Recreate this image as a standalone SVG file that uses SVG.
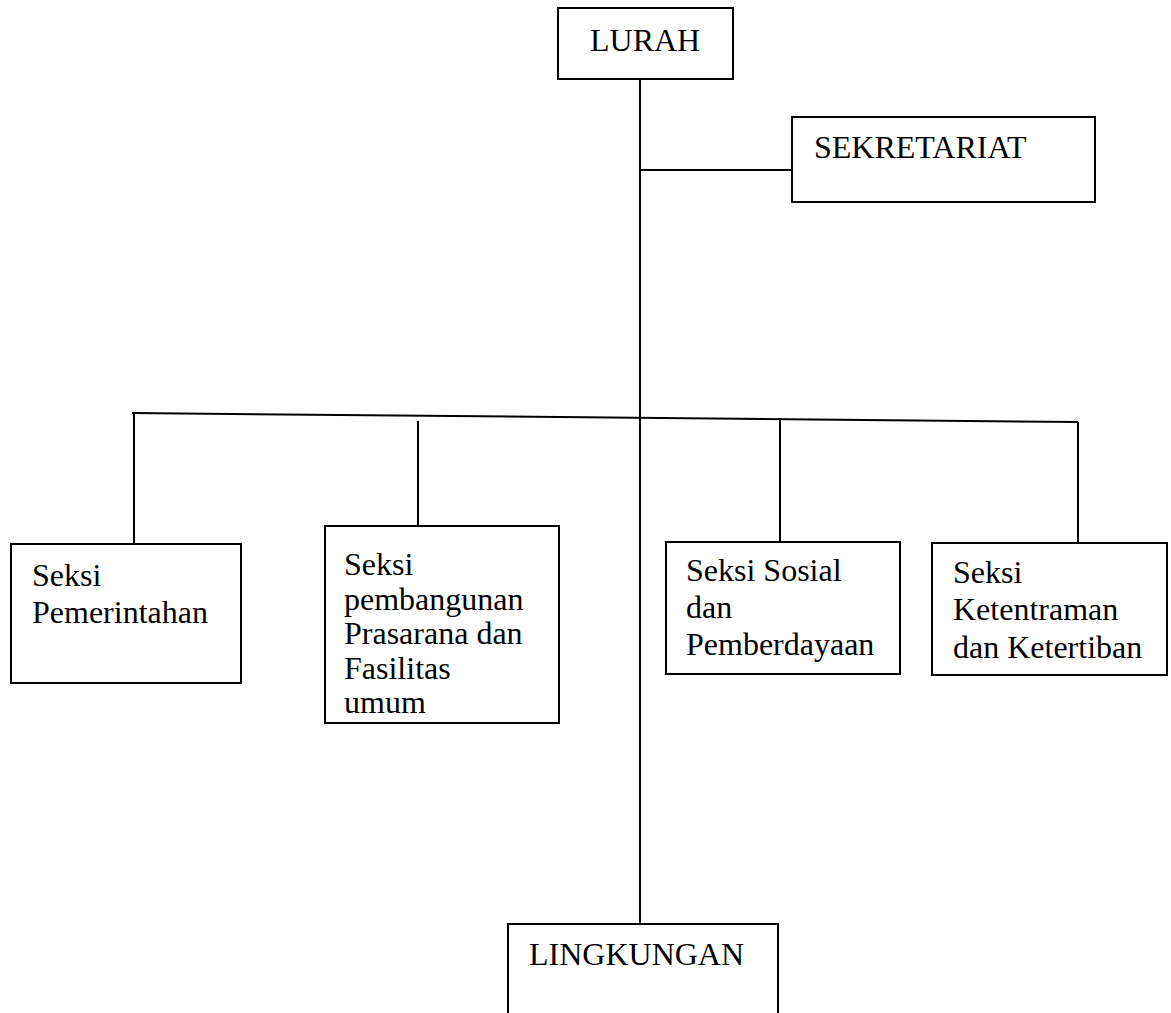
<svg xmlns="http://www.w3.org/2000/svg" width="1171" height="1013" viewBox="0 0 1171 1013">
<style>
.box{fill:#fff;stroke:#000;stroke-width:2}
.ln{stroke:#000;stroke-width:2;fill:none}
text{font-family:"Liberation Serif","Times New Roman",serif;font-size:32px;fill:#000}
</style>
<rect width="1171" height="1013" fill="#fff"/>
<g id="connectors">
<line class="ln" x1="640" y1="76" x2="640" y2="924"/>
<line class="ln" x1="640" y1="170" x2="792" y2="170"/>
<line class="ln" x1="132" y1="413" x2="1078" y2="422"/>
<line class="ln" x1="134" y1="413" x2="134" y2="546"/>
<line class="ln" x1="418" y1="421" x2="418" y2="526"/>
<line class="ln" x1="780" y1="418" x2="780" y2="542"/>
<line class="ln" x1="1078" y1="422" x2="1078" y2="543"/>
</g>
<g id="lurah">
<rect class="box" x="558" y="8" width="175" height="71"/>
<text x="590" y="51">LURAH</text>
</g>
<g id="sekretariat">
<rect class="box" x="792" y="117" width="303" height="85"/>
<text x="814" y="158">SEKRETARIAT</text>
</g>
<g id="seksi-pemerintahan">
<rect class="box" x="11" y="544" width="230" height="139"/>
<text x="32" y="586">Seksi</text>
<text x="32" y="623">Pemerintahan</text>
</g>
<g id="seksi-pembangunan">
<rect class="box" x="325" y="526" width="234" height="197"/>
<text x="344" y="575">Seksi</text>
<text x="344" y="610">pembangunan</text>
<text x="344" y="644">Prasarana dan</text>
<text x="344" y="679">Fasilitas</text>
<text x="344" y="713">umum</text>
</g>
<g id="seksi-sosial">
<rect class="box" x="666" y="542" width="234" height="132"/>
<text x="686" y="581">Seksi Sosial</text>
<text x="686" y="618">dan</text>
<text x="686" y="655">Pemberdayaan</text>
</g>
<g id="seksi-ketentraman">
<rect class="box" x="932" y="543" width="235" height="132"/>
<text x="953" y="583">Seksi</text>
<text x="953" y="620">Ketentraman</text>
<text x="953" y="658">dan Ketertiban</text>
</g>
<g id="lingkungan">
<rect class="box" x="508" y="924" width="270" height="110"/>
<text x="529" y="965">LINGKUNGAN</text>
</g>
</svg>
